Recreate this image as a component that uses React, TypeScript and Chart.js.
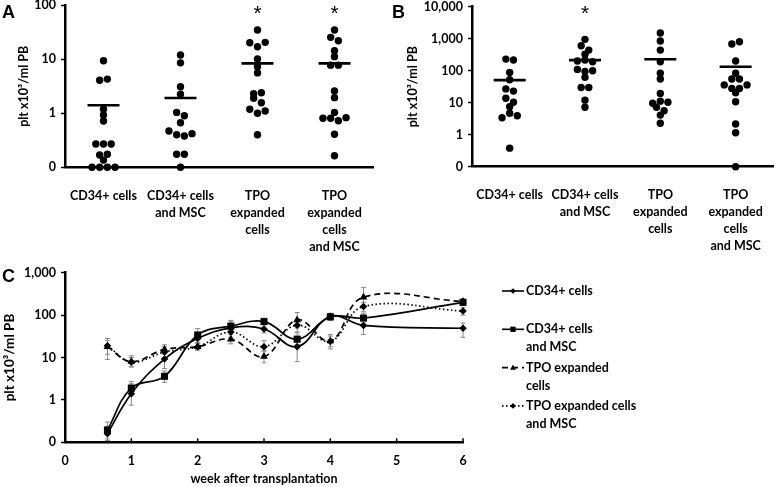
import React, { useEffect, useRef } from "react";
import { Chart, registerables } from "chart.js";
Chart.register(...registerables);

const FONT_FAMILY = "Lato, 'Open Sans', sans-serif";
const LETTER_FONT = "'Liberation Sans', Arial, sans-serif";

// ---------- categories ----------
const groupLabels: string[][] = [
  ["CD34+ cells"],
  ["CD34+ cells", "and MSC"],
  ["TPO", "expanded", "cells"],
  ["TPO", "expanded", "cells", "and MSC"],
];
const yTitle = "plt x10³/ml PB";

// ---------- Panel A ----------
const aCd34 = [9.4, 4.1, 4.3, 1.19, 0.93, 0.72, 0.27, 0.27, 0.27, 0.169, 0.174, 0.136, 0, 0, 0, 0];
const aCd34Msc = [12, 8.6, 3.1, 2.25, 1.04, 0.9, 0.67, 0.47, 0.4, 0.38, 0.42, 0.174, 0.174, 0];
const aTpo = [34.9, 20.3, 17.1, 20.6, 10.1, 7.3, 5.6, 2.3, 2.4, 1.9, 1.57, 1.19, 1.0, 1.1, 0.4];
const aTpoMsc = [34.9, 25.5, 22.1, 14.4, 11.2, 7.8, 7.8, 2.59, 1.95, 1.04, 0.81, 0.81, 0.73, 0.83, 0.41, 0.164];
const aMeans = [1.41, 1.92, 8.4, 8.4];
const aStars = ["", "", "*", "*"];
const aTickValues = [0.1, 1, 10, 100];
const aTickLabels = ["0", "1", "10", "100"];

// ---------- Panel B ----------
const bCd34 = [230, 215, 88, 52, 27, 23, 13.7, 10.3, 7.5, 3.4, 4.7, 3.9, 0.38];
const bCd34Msc = [955, 600, 440, 325, 200, 215, 190, 110, 95, 100, 62, 30, 30, 12, 7.2];
const bTpo = [1500, 850, 440, 190, 83, 55, 19.5, 9.6, 11.2, 10.3, 7.2, 5.6, 4.1, 2.27];
const bTpoMsc = [680, 805, 200, 83, 55, 55, 36, 28, 28, 36, 20.5, 10.7, 2.16, 1.15, 0];
const bMeans = [51, 215, 228, 133];
const bStars = ["", "*", "", ""];
const bTickValues = [0.1, 1, 10, 100, 1000, 10000];
const bTickLabels = ["0", "1", "10", "100", "1,000", "10,000"];

// ---------- Panel C ----------
const weeks = [0.64, 1, 1.5, 2, 2.5, 3, 3.5, 4, 4.5, 6];
const cWeekTicks = [0, 1, 2, 3, 4, 5, 6];
const cTickValues = [0.1, 1, 10, 100, 1000];
const cTickLabels = ["0", "1", "10", "100", "1,000"];

const cd34Vals = [0.16, 1.4, 9.2, 28, 50, 47, 18, 93, 57, 49];
const cd34Low = [0.11, 0.75, 5.5, 22, 40, 38, 8, 75, 35, 30];
const cd34High = [0.24, 2.4, 14, 38, 72, 60, 32, 110, 90, 65];

const cd34MscVals = [0.195, 1.9, 3.6, 34, 55, 70, 27, 91, 85, 200];
const cd34MscLow = [0.12, 1.3, 2.6, 28, 45, 60, 20, 75, 65, 170];
const cd34MscHigh = [0.3, 2.7, 4.8, 48, 75, 85, 38, 110, 110, 240];

const tpoVals = [18, 8, 15.5, 18, 27, 10.5, 77, 24.5, 265, 210];
const tpoLow = [9, 6, 12, 15, 21, 7.5, 50, 16, 150, 190];
const tpoHigh = [28, 11, 20, 22, 35, 15, 115, 35, 450, 230];

const tpoMscVals = [19, 7.8, 13.5, 18, 40, 18, 58, 24, 160, 125];
const tpoMscLow = [12, 6, 10, 15, 30, 14, 40, 18, 120, 100];
const tpoMscHigh = [25, 10, 18, 22, 55, 25, 80, 32, 200, 150];

const cSeriesLabels: string[][] = [
  ["CD34+ cells"],
  ["CD34+ cells", "and MSC"],
  ["TPO expanded", "cells"],
  ["TPO expanded cells", "and MSC"],
];

const cSeries = [
  { label: cSeriesLabels[0], values: cd34Vals, low: cd34Low, high: cd34High, dash: [] as number[], style: "rectRot", radius: 3.8 },
  { label: cSeriesLabels[1], values: cd34MscVals, low: cd34MscLow, high: cd34MscHigh, dash: [] as number[], style: "rect", radius: 5 },
  { label: cSeriesLabels[2], values: tpoVals, low: tpoLow, high: tpoHigh, dash: [6, 4], style: "triangle", radius: 4.5 },
  { label: cSeriesLabels[3], values: tpoMscVals, low: tpoMscLow, high: tpoMscHigh, dash: [1.5, 2.5], style: "rectRot", radius: 3.8 },
];

const tickFont = { family: FONT_FAMILY, size: 12.5, weight: "bold" as const };

function drawMarker(ctx: CanvasRenderingContext2D, style: string, x: number, y: number, r: number) {
  ctx.beginPath();
  if (style === "rect") {
    const s = r * Math.SQRT1_2;
    ctx.rect(x - s, y - s, 2 * s, 2 * s);
  } else if (style === "triangle") {
    const h = r * 1.5;
    ctx.moveTo(x, y - h * 0.6);
    ctx.lineTo(x + r * 0.87, y + h * 0.4);
    ctx.lineTo(x - r * 0.87, y + h * 0.4);
    ctx.closePath();
  } else {
    ctx.moveTo(x - r, y);
    ctx.lineTo(x, y - r);
    ctx.lineTo(x + r, y);
    ctx.lineTo(x, y + r);
    ctx.closePath();
  }
  ctx.fill();
}

type DotProps = {
  values: number[][];
  means: number[];
  stars: string[];
  tickValues: number[];
  tickLabels: string[];
  letter: string;
  left: number;
  width: number;
  height: number;
  yAxisWidth: number;
  plotTop: number;
  plotBottom: number;
  rightPad: number;
  titlePad: number;
};

function DotPanel(p: DotProps) {
  const ref = useRef<HTMLCanvasElement>(null);
  useEffect(() => {
    const canvas = ref.current!;
    const min = p.tickValues[0];
    const max = p.tickValues[p.tickValues.length - 1];
    const extras = {
      id: "dotExtras",
      afterDatasetsDraw(chart: any) {
        const { ctx } = chart;
        const x = chart.scales.x;
        const y = chart.scales.y;
        ctx.save();
        ctx.strokeStyle = "#000";
        ctx.lineWidth = 2.7;
        p.means.forEach((m, i) => {
          const px = x.getPixelForValue(i + 1);
          const py = y.getPixelForValue(m);
          ctx.beginPath();
          ctx.moveTo(px - 16, py);
          ctx.lineTo(px + 16, py);
          ctx.stroke();
        });
        ctx.fillStyle = "#000";
        ctx.font = `21px ${LETTER_FONT}`;
        ctx.textAlign = "center";
        ctx.textBaseline = "top";
        p.stars.forEach((s, i) => {
          if (s) ctx.fillText(s, x.getPixelForValue(i + 1), 3.5);
        });
        ctx.font = `bold 18px ${LETTER_FONT}`;
        ctx.textAlign = "left";
        ctx.textBaseline = "alphabetic";
        ctx.fillText(p.letter, 2, 18);
        ctx.restore();
      },
    };
    const chart = new Chart(canvas, {
      type: "scatter",
      data: {
        datasets: [
          {
            data: [] as any[],
            pointRadius: 3.7,
            pointHoverRadius: 3.7,
            pointBackgroundColor: "#000",
            pointBorderWidth: 0,
            clip: false as any,
          },
        ],
      },
      options: {
        animation: false,
        responsive: false,
        events: [],
        layout: { padding: { left: 0, right: p.rightPad, top: p.plotTop, bottom: 0 } },
        plugins: { legend: { display: false }, tooltip: { enabled: false } },
        scales: {
          x: {
            type: "linear",
            min: 0.5,
            max: 4.5,
            afterBuildTicks: (s: any) => {
              s.ticks = groupLabels.map((_, i) => ({ value: i + 1 }));
            },
            ticks: {
              callback: (v: any) => groupLabels[Math.round(Number(v)) - 1],
              font: { ...tickFont, lineHeight: 1.36 },
              color: "#000",
              padding: 12,
              maxRotation: 0,
              minRotation: 0,
              autoSkip: false,
            },
            grid: { display: false },
            border: { display: true, color: "#000", width: 2.5 },
            afterFit: (s: any) => {
              s.height = p.height - p.plotBottom;
              s.paddingLeft = 0;
              s.paddingRight = 0;
            },
          },
          y: {
            type: "logarithmic",
            min,
            max,
            afterBuildTicks: (s: any) => {
              s.ticks = p.tickValues.map((v) => ({ value: v }));
            },
            ticks: {
              callback: (_v: any, i: number) => p.tickLabels[i],
              font: tickFont,
              color: "#000",
              padding: 5,
              autoSkip: false,
            },
            grid: { display: true, drawOnChartArea: false, drawTicks: true, tickLength: 4, tickColor: "#000", tickWidth: 1.5 },
            border: { display: true, color: "#000", width: 2.5 },
            title: {
              display: true,
              text: yTitle,
              font: tickFont,
              color: "#000",
              padding: { top: p.titlePad, bottom: 0 },
            },
            afterFit: (s: any) => {
              s.width = p.yAxisWidth;
              s.paddingTop = 0;
              s.paddingBottom = 0;
            },
          },
        },
      } as any,
      plugins: [extras],
    });

    // beeswarm-style layout: values of similar height are spread in centred rows
    const xs = chart.scales.x;
    const ys = chart.scales.y;
    const unit = xs.getPixelForValue(2) - xs.getPixelForValue(1);
    const SPACING = 7.7;
    const ROW_TOL = 5;
    const pts: { x: number; y: number }[] = [];
    p.values.forEach((arr, gi) => {
      const items = arr.map((v, i) => {
        const vv = Math.max(v, min);
        return { v: vv, i, py: ys.getPixelForValue(vv) };
      });
      const sorted = [...items].sort((a, b) => a.py - b.py || a.i - b.i);
      let row: typeof items = [];
      const flush = () => {
        row.sort((a, b) => a.i - b.i);
        row.forEach((q, k) => {
          const off = (k - (row.length - 1) / 2) * SPACING;
          pts.push({ x: gi + 1 + off / unit, y: q.v });
        });
        row = [];
      };
      sorted.forEach((q) => {
        if (row.length && q.py - row[0].py > ROW_TOL) flush();
        row.push(q);
      });
      flush();
    });
    (chart.data.datasets[0] as any).data = pts;
    chart.update("none");
    return () => chart.destroy();
  }, []);
  return (
    <canvas
      ref={ref}
      width={p.width}
      height={p.height}
      style={{ position: "absolute", left: p.left, top: 0, width: p.width, height: p.height }}
    />
  );
}

function TimePanel() {
  const ref = useRef<HTMLCanvasElement>(null);
  const W = 777;
  const H = 237;
  const TOP = 250;
  useEffect(() => {
    const canvas = ref.current!;
    const extras = {
      id: "timeExtras",
      beforeDatasetsDraw(chart: any) {
        const { ctx } = chart;
        const x = chart.scales.x;
        const y = chart.scales.y;
        ctx.save();
        ctx.strokeStyle = "#8a8a8a";
        ctx.lineWidth = 1;
        cSeries.forEach((s) => {
          weeks.forEach((w, i) => {
            const px = x.getPixelForValue(w);
            const y1 = y.getPixelForValue(s.low[i]);
            const y2 = y.getPixelForValue(s.high[i]);
            ctx.beginPath();
            ctx.moveTo(px, y1);
            ctx.lineTo(px, y2);
            ctx.moveTo(px - 2.5, y1);
            ctx.lineTo(px + 2.5, y1);
            ctx.moveTo(px - 2.5, y2);
            ctx.lineTo(px + 2.5, y2);
            ctx.stroke();
          });
        });
        ctx.restore();
      },
      afterDraw(chart: any) {
        const { ctx, chartArea } = chart;
        const x = chart.scales.x;
        ctx.save();
        // inward tick marks on the week axis
        ctx.strokeStyle = "#000";
        ctx.lineWidth = 1.5;
        cWeekTicks.forEach((v) => {
          const px = x.getPixelForValue(v);
          ctx.beginPath();
          ctx.moveTo(px, chartArea.bottom);
          ctx.lineTo(px, chartArea.bottom - 4);
          ctx.stroke();
        });
        // panel letter
        ctx.fillStyle = "#000";
        ctx.font = `bold 18px ${LETTER_FONT}`;
        ctx.textAlign = "left";
        ctx.textBaseline = "alphabetic";
        ctx.fillText("C", 2, 32);
        // legend
        const lx = chartArea.right + 39;
        cSeries.forEach((s, i) => {
          const ly = 41 + i * 38.3;
          ctx.strokeStyle = "#000";
          ctx.lineWidth = 1.6;
          ctx.setLineDash(s.dash);
          ctx.beginPath();
          ctx.moveTo(lx, ly);
          ctx.lineTo(lx + 22, ly);
          ctx.stroke();
          ctx.setLineDash([]);
          ctx.fillStyle = "#000";
          drawMarker(ctx, s.style, lx + 11, ly, s.radius * 0.75);
          ctx.font = `bold 12.5px ${FONT_FAMILY}`;
          ctx.textBaseline = "middle";
          s.label.forEach((line, k) => ctx.fillText(line, lx + 24, ly + k * 18));
        });
        ctx.restore();
      },
    };
    const chart = new Chart(canvas, {
      type: "line",
      data: {
        datasets: cSeries.map((s) => ({
          label: s.label.join(" "),
          data: weeks.map((w, i) => ({ x: w, y: s.values[i] })),
          borderColor: "#000",
          borderWidth: 1.7,
          borderDash: s.dash,
          tension: 0.4,
          fill: false,
          pointStyle: s.style as any,
          pointRadius: s.radius,
          pointHoverRadius: s.radius,
          pointBackgroundColor: "#000",
          pointBorderColor: "#000",
          pointBorderWidth: 0,
          clip: false as any,
        })),
      },
      options: {
        animation: false,
        responsive: false,
        events: [],
        layout: { padding: { left: 0, right: 314, top: 22.7, bottom: 0 } },
        plugins: { legend: { display: false }, tooltip: { enabled: false } },
        scales: {
          x: {
            type: "linear",
            min: 0,
            max: 6,
            afterBuildTicks: (s: any) => {
              s.ticks = cWeekTicks.map((v) => ({ value: v }));
            },
            ticks: { font: tickFont, color: "#000", padding: 3, maxRotation: 0, autoSkip: false },
            grid: { display: false },
            border: { display: true, color: "#000", width: 2.5 },
            title: {
              display: true,
              text: "week after transplantation",
              font: tickFont,
              color: "#000",
              padding: { top: 0, bottom: 1 },
            },
            afterFit: (s: any) => {
              s.height = H - 192.3;
              s.paddingLeft = 0;
              s.paddingRight = 0;
            },
          },
          y: {
            type: "logarithmic",
            min: cTickValues[0],
            max: cTickValues[cTickValues.length - 1],
            afterBuildTicks: (s: any) => {
              s.ticks = cTickValues.map((v) => ({ value: v }));
            },
            ticks: {
              callback: (_v: any, i: number) => cTickLabels[i],
              font: tickFont,
              color: "#000",
              padding: 5,
              autoSkip: false,
            },
            grid: { display: true, drawOnChartArea: false, drawTicks: true, tickLength: 4, tickColor: "#000", tickWidth: 1.5 },
            border: { display: true, color: "#000", width: 2.5 },
            title: {
              display: true,
              text: yTitle,
              font: { ...tickFont, size: 13.5 },
              color: "#000",
              padding: { top: 2, bottom: 0 },
            },
            afterFit: (s: any) => {
              s.width = 65;
              s.paddingTop = 0;
              s.paddingBottom = 0;
            },
          },
        },
      } as any,
      plugins: [extras],
    });
    return () => chart.destroy();
  }, []);
  return (
    <canvas
      ref={ref}
      width={W}
      height={H}
      style={{ position: "absolute", left: 0, top: TOP, width: W, height: H }}
    />
  );
}

export default function App() {
  return (
    <div
      style={{
        position: "fixed",
        left: 0,
        top: 0,
        width: 777,
        height: 487,
        background: "#fff",
        overflow: "hidden",
      }}
    >
      <DotPanel
        values={[aCd34, aCd34Msc, aTpo, aTpoMsc]}
        means={aMeans}
        stars={aStars}
        tickValues={aTickValues}
        tickLabels={aTickLabels}
        letter="A"
        left={0}
        width={390}
        height={252}
        yAxisWidth={65}
        plotTop={5.3}
        plotBottom={167.3}
        rightPad={17}
        titlePad={16.5}
      />
      <DotPanel
        values={[bCd34, bCd34Msc, bTpo, bTpoMsc]}
        means={bMeans}
        stars={bStars}
        tickValues={bTickValues}
        tickLabels={bTickLabels}
        letter="B"
        left={390}
        width={387}
        height={252}
        yAxisWidth={82}
        plotTop={6.7}
        plotBottom={166.7}
        rightPad={0}
        titlePad={15.5}
      />
      <TimePanel />
    </div>
  );
}
